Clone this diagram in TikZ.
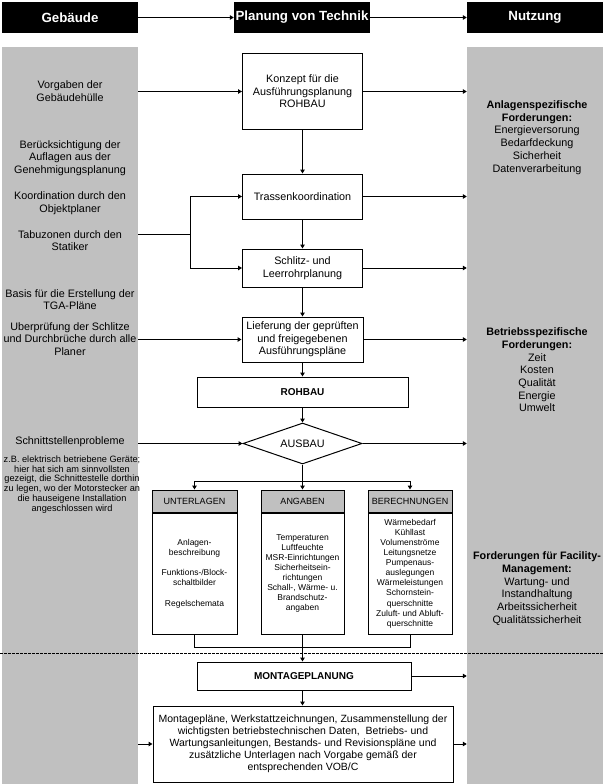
\documentclass[tikz,border=0pt]{standalone}
\usepackage{fontspec}
\setmainfont{Liberation Sans}
\usetikzlibrary{positioning,calc}
\usetikzlibrary{arrows.meta,shapes.geometric}
\definecolor{SpaltenGrau}{RGB}{192,192,192}
\tikzset{
  kopf/.style={fill=black,text=white,minimum width=136pt,minimum height=31pt,inner sep=0pt,
    font=\fontsize{13.3}{16}\selectfont\bfseries},
  spalte/.style={fill=SpaltenGrau,minimum width=136pt,minimum height=737pt,inner sep=0pt},
  kasten/.style={draw=black,line width=1pt,fill=white,align=center,inner sep=0pt,
    font=\fontsize{10.8}{12.6}\selectfont},
  txt/.style={align=center,inner sep=0pt,font=\fontsize{10.8}{12.7}\selectfont},
  klein/.style={align=center,inner sep=0pt,font=\fontsize{9.2}{9.8}\selectfont},
  reiter/.style={draw=black,line width=1pt,fill=SpaltenGrau,minimum height=22pt,inner sep=0pt,
    font=\fontsize{9}{11}\selectfont},
  inhalt/.style={draw=black,line width=1pt,fill=white,minimum height=121pt,align=center,inner sep=0pt,
    font=\fontsize{8.5}{10.1}\selectfont},
  pfeil/.style={draw=black,line width=1pt,-{Triangle[length=4pt,width=4.5pt]}},
  linie/.style={draw=black,line width=1pt},
}

\begin{document}
\begin{tikzpicture}[x=1pt,y=-1pt]
\useasboundingbox (0,0) rectangle (604,784);
\node[spalte] (links) at (70,415.5) {};
\node[spalte] (rechts) at (535,415.5) {};

\node[kopf] (geb) at (70,17.5) {Gebäude};
\node[kopf] (plan) at (302,17.5) {Planung von Technik};
\node[kopf] (nutz) at (535,17.5) {Nutzung};
\draw[pfeil] (geb) -- (plan);
\draw[pfeil] (plan) -- (nutz);

\node[txt] (vorgaben) at (70,91) {Vorgaben der\\Gebäudehülle};
\node[txt] (auflagen) at (70,158) {Berücksichtigung der\\Auflagen aus der\\Genehmigungsplanung};
\node[txt] (objekt) at (70,203) {Koordination durch den\\Objektplaner};
\node[txt] (statik) at (70,240.5) {Tabuzonen durch den\\Statiker};
\node[txt] (basis) at (70,299.5) {Basis für die Erstellung der\\TGA-Pläne};
\node[txt] (pruefung) at (70,339) {Uberprüfung der Schlitze\\und Durchbrüche durch alle\\Planer};
\node[txt] (schnitt) at (70,442) {Schnittstellenprobleme};
\node[klein] (beispiel) at (72,484.5) {z.B. elektrisch betriebene Geräte;\\hier hat sich am sinnvollsten\\gezeigt, die Schnittestelle dorthin\\zu legen, wo der Motorstecker an\\die hauseigene Installation\\angeschlossen wird};

\node[txt] (anlagen) at (537,137.5) {\textbf{Anlagenspezifische}\\\textbf{Forderungen:}\\Energieversorung\\Bedarfdeckung\\Sicherheit\\Datenverarbeitung};
\node[txt] (betrieb) at (537,370) {\textbf{Betriebsspezifische}\\\textbf{Forderungen:}\\Zeit\\Kosten\\Qualität\\Energie\\Umwelt};
\node[txt] (facility) at (537,588.5) {\textbf{Forderungen für Facility-}\\\textbf{Management:}\\Wartung- und\\Instandhaltung\\Arbeitssicherheit\\Qualitätssicherheit};

\node[kasten,minimum width=120pt,minimum height=75pt] (konzept) at (302.5,91.5) {Konzept für die\\Ausführungsplanung\\ROHBAU};
\node[kasten,minimum width=120pt,minimum height=45pt] (trassen) at (302.5,196.5) {Trassenkoordination};
\node[kasten,minimum width=120pt,minimum height=38pt] (schlitz) at (302.5,268) {Schlitz- und\\Leerrohrplanung};
\node[kasten,minimum width=121pt,minimum height=45pt] (liefer) at (302.5,339.5) {Lieferung der geprüften\\und freigegebenen\\Ausführungspläne};
\node[kasten,minimum width=211pt,minimum height=30pt,font=\fontsize{10}{12}\selectfont\bfseries] (rohbau) at (302.5,392) {ROHBAU};
\node[kasten,diamond,aspect=2.9,minimum width=119pt,minimum height=41pt] (ausbau) at (302.5,443.5) {AUSBAU};

\node[reiter,minimum width=85pt] (unterlK) at (194.5,501) {UNTERLAGEN};
\node[inhalt,minimum width=85pt,below=0pt of unterlK] (unterlI) {Anlagen-\\beschreibung\\[10.1pt]Funktions-/Block-\\schaltbilder\\[10.1pt]Regelschemata};
\node[reiter,minimum width=83pt] (angK) at (302.5,501) {ANGABEN};
\node[inhalt,minimum width=83pt,below=0pt of angK] (angI) {Temperaturen\\Luftfeuchte\\MSR-Einrichtungen\\Sicherheitsein-\\richtungen\\Schall-, Wärme- u.\\Brandschutz-\\angaben};
\node[reiter,minimum width=84pt] (berK) at (410,501) {BERECHNUNGEN};
\node[inhalt,minimum width=84pt,below=0pt of berK] (berI) {Wärmebedarf\\Kühllast\\Volumenströme\\Leitungsnetze\\Pumpenaus-\\auslegungen\\Wärmeleistungen\\Schornstein-\\querschnitte\\Zuluft- und Abluft-\\querschnitte};

\node[kasten,minimum width=214pt,minimum height=28pt,font=\fontsize{10}{12}\selectfont\bfseries] (montage) at (304,676) {MONTAGEPLANUNG};
\node[kasten,minimum width=300pt,minimum height=76pt,font=\fontsize{10.5}{11.9}\selectfont] (ergebnis) at (303,744) {Montagepläne, Werkstattzeichnungen, Zusammenstellung der\\wichtigsten betriebstechnischen Daten,\ \ Betriebs- und\\Wartungsanleitungen, Bestands- und Revisionspläne und\\zusätzliche Unterlagen nach Vorgabe gemäß der\\entsprechenden VOB/C};

\coordinate (knick) at (190,234);
\coordinate (verteil) at (302.5,481);
\coordinate (sammel) at (302.5,647);

\draw[pfeil] (konzept) -- (trassen);
\draw[pfeil] (trassen) -- (schlitz);
\draw[pfeil] (schlitz) -- (liefer);
\draw[pfeil] (liefer) -- (rohbau);
\draw[pfeil] (rohbau) -- (ausbau);
\draw[linie] (ausbau) -- (verteil);
\draw[pfeil] (verteil) -| (unterlK.north);
\draw[pfeil] (verteil) -- (angK.north);
\draw[pfeil] (verteil) -| (berK.north);
\draw[linie] (unterlI.south) |- (sammel);
\draw[linie] (berI.south) |- (sammel);
\draw[linie] (angI.south) -- (sammel);
\draw[pfeil] (sammel) -- (sammel |- montage.north);
\draw[pfeil] (sammel |- montage.south) -- (sammel |- ergebnis.north);

\draw[pfeil] (links.east |- konzept.west) -- (konzept.west);
\draw[linie] (links.east |- knick) -- (knick);
\draw[pfeil] (knick) |- (trassen.west);
\draw[pfeil] (knick) |- (schlitz.west);
\draw[pfeil] (links.east |- liefer.west) -- (liefer.west);
\draw[pfeil] (links.east |- ausbau.west) -- (ausbau.west);
\draw[pfeil] (links.east |- ergebnis.west) -- (ergebnis.west);
\foreach \n in {konzept,trassen,schlitz,liefer,ausbau,montage,ergebnis}
  \draw[pfeil] (\n.east) -- (rechts.west |- \n.east);

\draw[linie,dash pattern=on 2.5pt off 1.5pt] (0,653) -- (604,653);
\end{tikzpicture}
\end{document}
